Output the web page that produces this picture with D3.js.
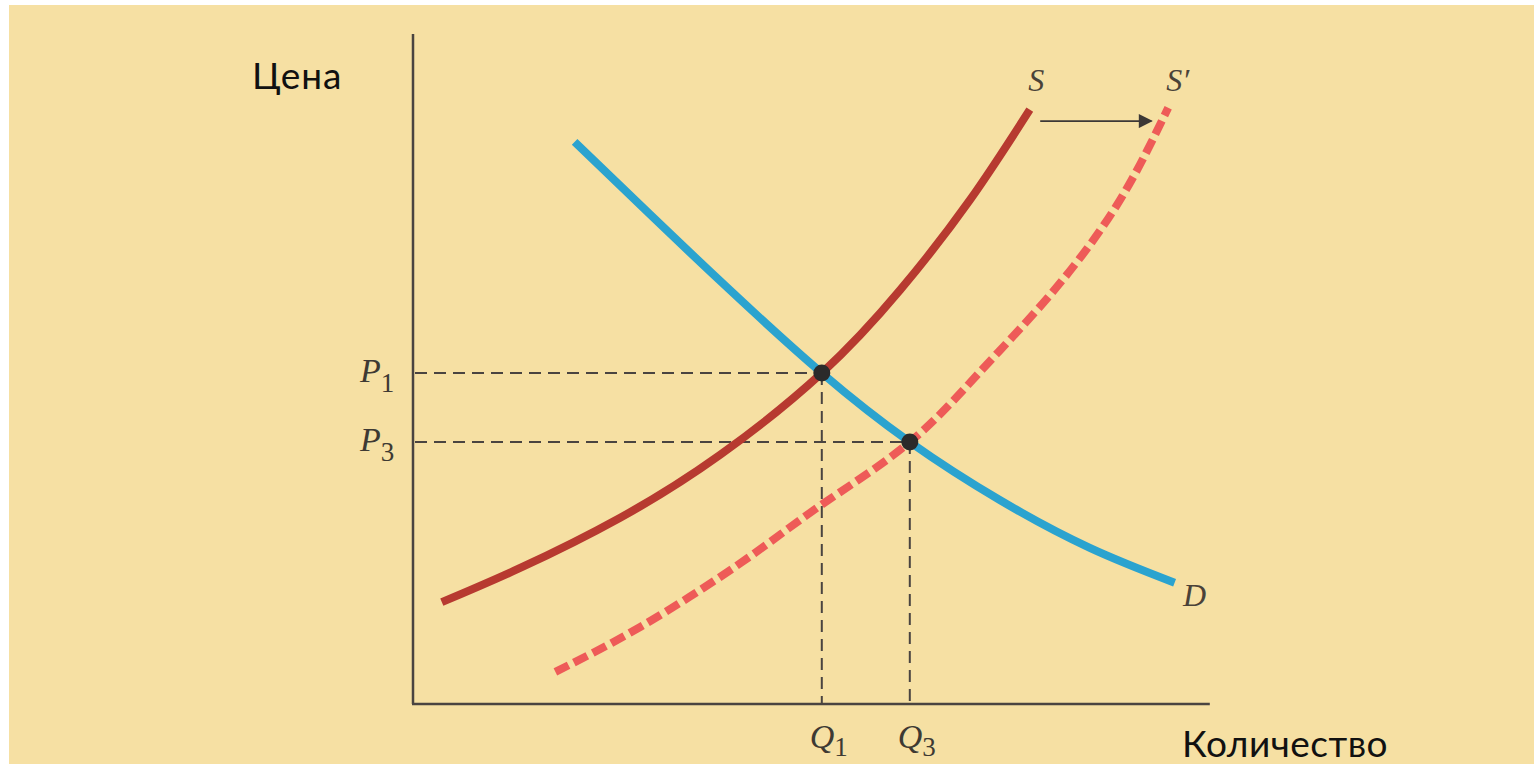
<!DOCTYPE html>
<head>
  <meta charset="utf-8">
  <script src="https://d3js.org/d3.v7.min.js"></script>
  <style>
    body { margin: 0; background: #fff; }
    svg { display: block; }
  </style>
</head>
<body>
  <div class="chart"></div>
  <script>
    // quantity / price pairs (0..100 units)
    var demand = [[20.2, 83.9], [29.6, 73.1], [39.6, 61.8], [51.1, 49.4],
                  [62.1, 39.1], [73.4, 30.4], [84.6, 23.3], [95.2, 18.1]];
    var supply = [[3.6, 15.2], [13.4, 20.3], [25.9, 27.8], [38.4, 37.2], [51.1, 49.4],
                  [60.9, 61.8], [69.6, 75.2], [77.1, 88.7]];
    var supplyNew = [[17.8, 4.8], [28.4, 11.5], [40.9, 21.0], [50.9, 29.6], [62.1, 39.1],
                     [71.2, 50.0], [79.6, 61.0], [88.0, 74.5], [94.4, 89.0]];
    var equilibria = [{q: 51.1, p: 49.4, qLab: "1", pLab: "1"},
                      {q: 62.1, p: 39.1, qLab: "3", pLab: "3"}];
    var curveLabels = [{text: "S", q: 77.9, p: 91.5},
                       {text: "S\u2032", q: 95.6, p: 91.5},
                       {text: "D", q: 97.7, p: 14.7}];
    var shiftArrow = [[78.4, 87.0], [92.3, 87.0]];

    var width = 1534, height = 767;

    var svg = d3.select(".chart")
      .append("svg")
      .attr("width", width)
      .attr("height", height);

    // paper background with a small white border
    svg.append("rect")
      .attr("x", 9).attr("y", 5)
      .attr("width", width - 9).attr("height", height - 8)
      .attr("fill", "#f6e0a3");

    var x = d3.scaleLinear().domain([0, 100]).range([413, 1213]);
    var y = d3.scaleLinear().domain([0, 100]).range([704, 34]);

    var defs = svg.append("defs");
    defs.append("marker")
      .attr("id", "head")
      .attr("viewBox", "0 0 10 10")
      .attr("refX", 9).attr("refY", 5)
      .attr("markerWidth", 18).attr("markerHeight", 14)
      .attr("markerUnits", "userSpaceOnUse")
      .attr("orient", "auto")
      .append("path")
      .attr("d", "M0,0 L10,5 L0,10 Z")
      .attr("fill", "#3c3836");

    // axes: plain lines, no ticks
    svg.append("line")
      .attr("x1", x(0)).attr("x2", x(0))
      .attr("y1", y(100)).attr("y2", y(0))
      .attr("stroke", "#4a4440").attr("stroke-width", 2.5);
    svg.append("line")
      .attr("x1", x(0) - 1).attr("x2", x(99.6))
      .attr("y1", y(0)).attr("y2", y(0))
      .attr("stroke", "#4a4440").attr("stroke-width", 2.5);

    // guide lines to the axes
    var guides = svg.append("g")
      .attr("stroke", "#4a4440")
      .attr("stroke-width", 2)
      .attr("stroke-dasharray", "12,7");
    equilibria.forEach(function(e) {
      guides.append("line")
        .attr("x1", x(0) + 2).attr("x2", x(e.q))
        .attr("y1", y(e.p)).attr("y2", y(e.p));
      guides.append("line")
        .attr("x1", x(e.q)).attr("x2", x(e.q))
        .attr("y1", y(e.p)).attr("y2", y(0));
    });

    var line = d3.line()
      .x(function(d) { return x(d[0]) })
      .y(function(d) { return y(d[1]) })
      .curve(d3.curveNatural);

    svg.append("path")
      .datum(supplyNew)
      .attr("d", line)
      .attr("fill", "none")
      .attr("stroke", "#ee5b58")
      .attr("stroke-width", 8)
      .attr("stroke-dasharray", "15,6");

    svg.append("path")
      .datum(supply)
      .attr("d", line)
      .attr("fill", "none")
      .attr("stroke", "#b73a30")
      .attr("stroke-width", 8);

    svg.append("path")
      .datum(demand)
      .attr("d", line)
      .attr("fill", "none")
      .attr("stroke", "#2ba3cf")
      .attr("stroke-width", 8);

    svg.selectAll(".eq")
      .data(equilibria)
      .enter().append("circle")
      .attr("class", "eq")
      .attr("cx", function(d) { return x(d.q) })
      .attr("cy", function(d) { return y(d.p) })
      .attr("r", 8.5)
      .attr("fill", "#2b2a2a");

    // shift arrow S -> S'
    svg.append("line")
      .attr("x1", x(shiftArrow[0][0])).attr("y1", y(shiftArrow[0][1]))
      .attr("x2", x(shiftArrow[1][0])).attr("y2", y(shiftArrow[1][1]))
      .attr("stroke", "#3c3836").attr("stroke-width", 1.8)
      .attr("marker-end", "url(#head)");

    var serif = "'Liberation Serif', 'DejaVu Serif', serif";

    svg.selectAll(".clab")
      .data(curveLabels)
      .enter().append("text")
      .attr("class", "clab")
      .attr("x", function(d) { return x(d.q) })
      .attr("y", function(d) { return y(d.p) })
      .attr("text-anchor", "middle")
      .attr("font-family", serif)
      .attr("font-style", "italic")
      .attr("font-size", 32)
      .attr("fill", "#4a4238")
      .text(function(d) { return d.text });

    // P labels on the price axis
    var pl = svg.selectAll(".plab")
      .data(equilibria)
      .enter().append("text")
      .attr("class", "plab")
      .attr("x", 360)
      .attr("y", function(d) { return y(d.p) + 9 })
      .attr("font-family", serif)
      .attr("font-size", 34)
      .attr("fill", "#3e3a33");
    pl.append("tspan").attr("font-style", "italic").text("P");
    pl.append("tspan").attr("dy", 10).attr("font-size", 27)
      .text(function(d) { return d.pLab });

    // Q labels on the quantity axis
    var ql = svg.selectAll(".qlab")
      .data(equilibria)
      .enter().append("text")
      .attr("class", "qlab")
      .attr("x", function(d) { return x(d.q) - 12 })
      .attr("y", 748)
      .attr("font-family", serif)
      .attr("font-size", 34)
      .attr("fill", "#3e3a33");
    ql.append("tspan").attr("font-style", "italic").text("Q");
    ql.append("tspan").attr("dy", 8).attr("font-size", 27)
      .text(function(d) { return d.qLab });

    // axis titles
    var sans = "Lato, 'Noto Sans', sans-serif";
    svg.append("text")
      .attr("x", 252).attr("y", 89)
      .attr("font-family", sans)
      .attr("font-size", 37)
      .attr("letter-spacing", 1)
      .attr("fill", "#111")
      .text("Цена");
    svg.append("text")
      .attr("x", 1182).attr("y", 757)
      .attr("font-family", sans)
      .attr("font-size", 37)
      .attr("letter-spacing", 0.5)
      .attr("fill", "#111")
      .text("Количество");
  </script>
</body>
